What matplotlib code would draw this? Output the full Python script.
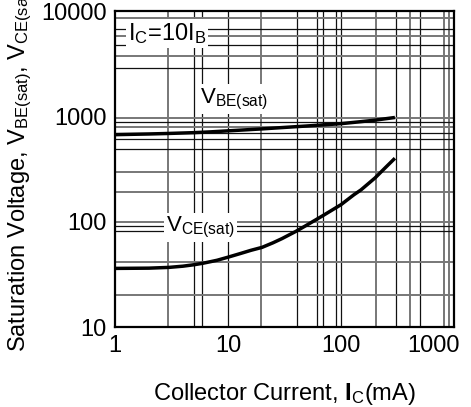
import matplotlib
matplotlib.use("Agg")
import matplotlib.pyplot as plt
from matplotlib.transforms import ScaledTranslation

plt.rcParams['font.family'] = ['Liberation Sans', 'DejaVu Sans']
plt.rcParams['mathtext.fontset'] = 'custom'
plt.rcParams['mathtext.rm'] = 'Liberation Sans'
plt.rcParams['mathtext.it'] = 'Liberation Sans'
plt.rcParams['mathtext.bf'] = 'Liberation Sans:bold'

# Data (IC in mA, voltages in mV)
ic_be = [1, 2, 3, 5, 7, 10, 20, 30, 50, 70, 100, 150, 200, 300]
vbe_sat = [670, 680, 688, 700, 712, 728, 760, 782, 810, 830, 852, 890, 920, 975]

ic_ce = [1, 2, 3, 4, 5, 6, 7, 8, 10, 13, 16, 20, 25, 30, 40, 50, 70,
         100, 130, 150, 200, 250, 300]
vce_sat = [36, 36.2, 36.8, 37.8, 39, 40.3, 41.7, 43, 46, 50, 53.5, 57, 63, 69, 81, 93, 115,
           145, 180, 200, 260, 330, 400]

x_ticks = [1, 10, 100, 1000]
x_ticklabels = ["1", "10", "100", "1000"]
y_ticks = [10, 100, 1000, 10000]
y_ticklabels = ["10", "100", "1000", "10000"]

# Irregular printed grid of the scanned datasheet
vgrid_black = [5.03, 5.85, 10, 40.5, 61, 69.7, 90.3, 100, 307, 500]
vgrid_gray = [2.93, 19.5, 203, 408, 816, 908]
hgrid_black = [6700, 4800, 2900, 890, 690, 605, 490, 90, 81]
hgrid_gray = [8500, 5800, 3700, 960, 800, 295, 190, 100, 41, 20]

fig = plt.figure(figsize=(4.71, 4.07), dpi=100)
ax = fig.add_axes([115/471, 1-327/407, (454-115)/471, (327-11)/407])
ax.set_xscale('log')
ax.set_yscale('log')
ax.set_xlim(1, 1000)
ax.set_ylim(10, 10000)

for v in vgrid_gray:
    ax.axvline(v, color='#777777', lw=1.4, zorder=1)
for v in vgrid_black:
    ax.axvline(v, color='#111111', lw=0.9, zorder=1)
for h in hgrid_gray:
    ax.axhline(h, color='#777777', lw=1.4, zorder=1)
for h in hgrid_black:
    ax.axhline(h, color='#111111', lw=0.9, zorder=1)

ax.plot(ic_be, vbe_sat, color='black', lw=2.5, zorder=3, solid_capstyle='butt')
ax.plot(ic_ce, vce_sat, color='black', lw=2.5, zorder=3, solid_capstyle='butt')

box = dict(facecolor='white', edgecolor='none', pad=1.5)
ax.text(1.3, 6100, r'I$_\mathrm{C}$=10I$_\mathrm{B}$', fontsize=17, ha='left', va='center',
        bbox=box, zorder=4)
ax.text(5.6, 1340, r'V$_\mathrm{BE(sat)}$', fontsize=16, ha='left', va='baseline',
        bbox=box, zorder=4)
ax.text(2.85, 80, r'V$_\mathrm{CE(sat)}$', fontsize=16, ha='left', va='baseline',
        bbox=box, zorder=4)

ax.set_xticks(x_ticks)
ax.set_xticklabels(x_ticklabels)
ax.set_yticks(y_ticks)
ax.set_yticklabels(y_ticklabels)
ax.minorticks_off()
ax.tick_params(length=0, labelsize=17, pad=6)

last = ax.get_xticklabels()[-1]
last.set_horizontalalignment('right')
last.set_transform(last.get_transform() + ScaledTranslation(6/100, 0, fig.dpi_scale_trans))

for s in ax.spines.values():
    s.set_linewidth(1.6)
    s.set_color('black')
    s.set_zorder(5)

ax.set_xlabel(r'Collector Current, $\mathbf{I}_\mathrm{C}$(mA)', fontsize=17, labelpad=17)
ax.set_ylabel(r'Saturation Voltage, V$_\mathrm{BE(sat)}$, V$_\mathrm{CE(sat)}$', fontsize=17,
              labelpad=5)

fig.savefig('out.png', dpi=100)
